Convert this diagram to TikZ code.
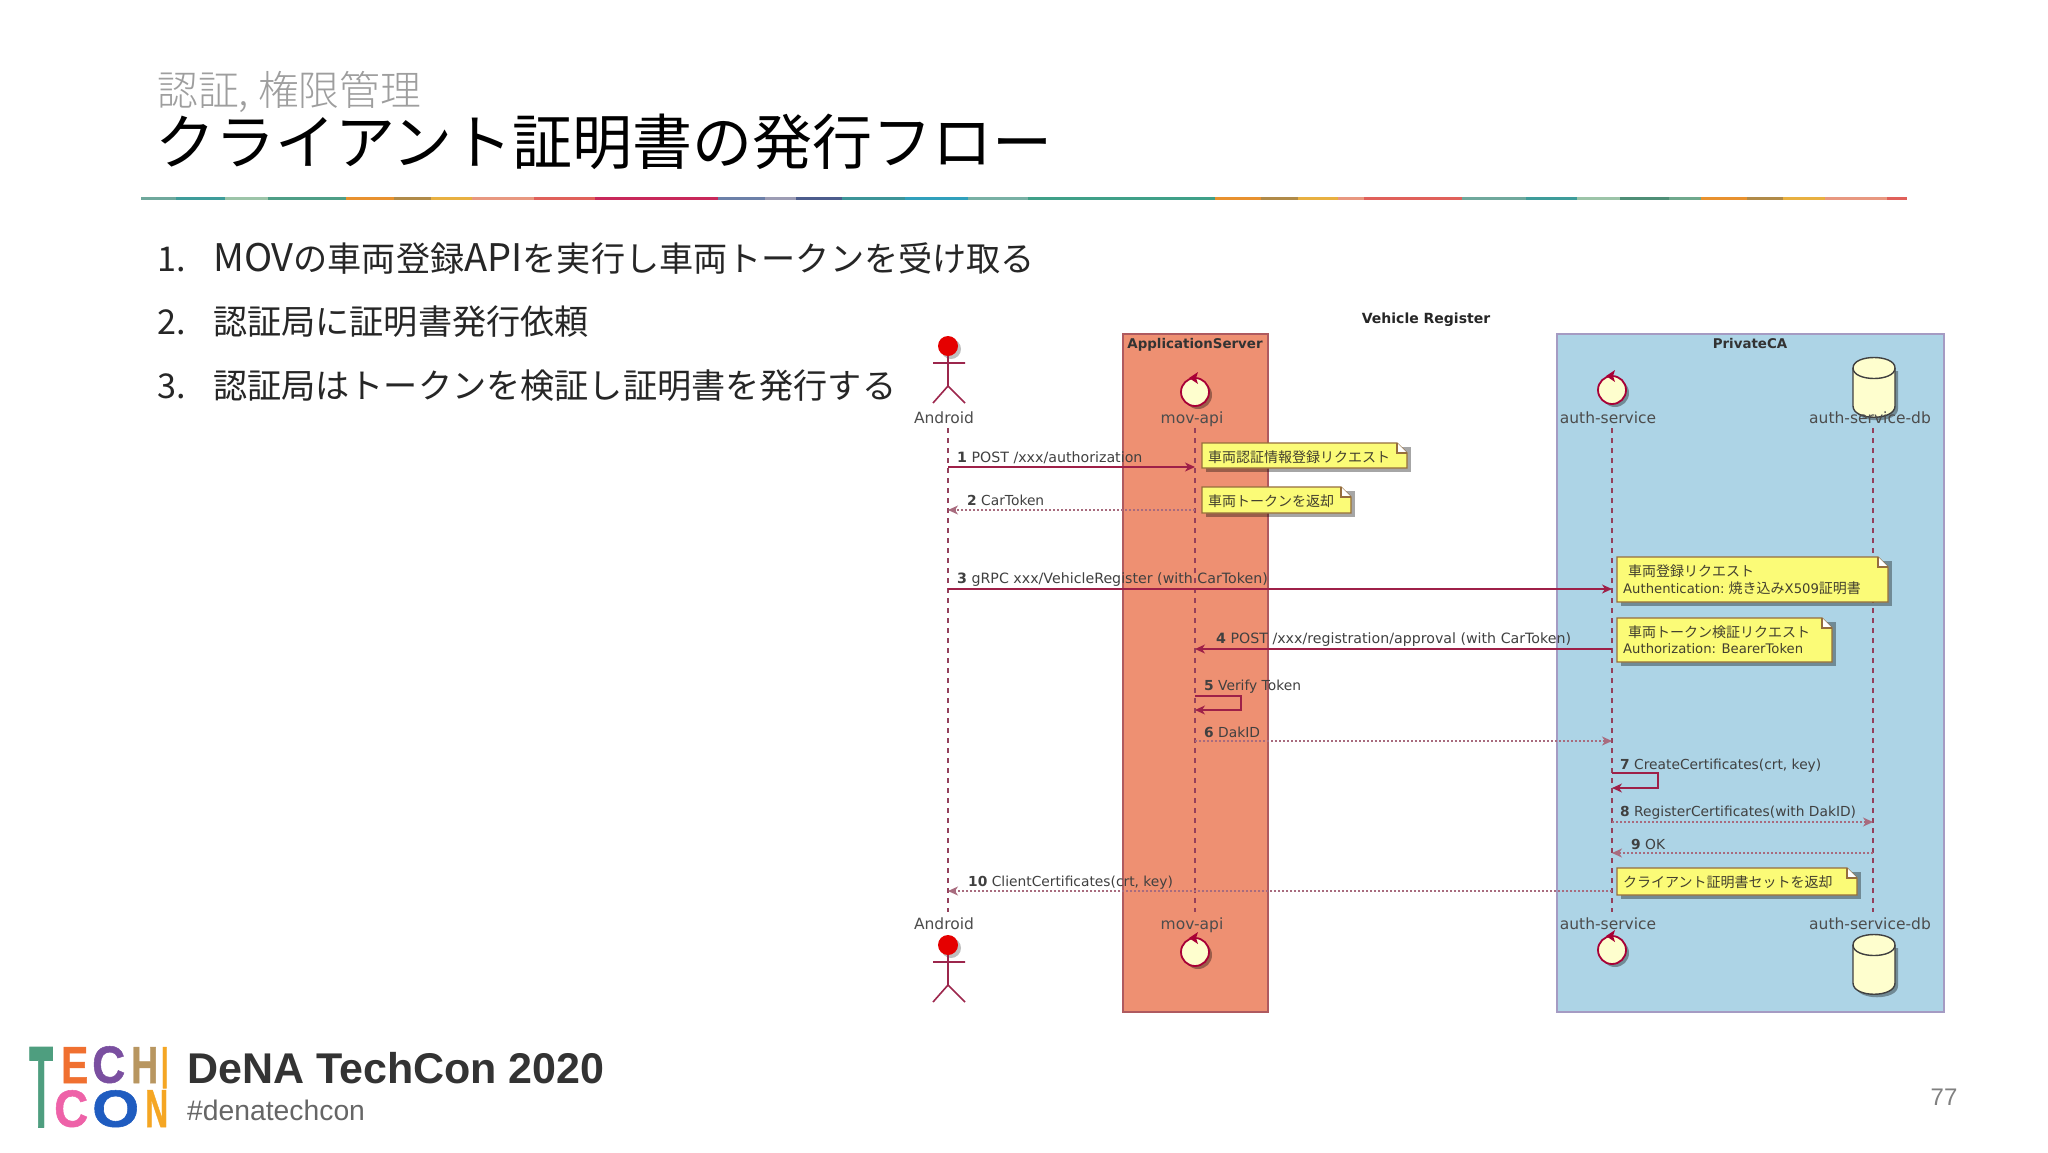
\documentclass[tikz,border=0pt]{standalone}
\usepackage{fontspec}
\usepackage{graphicx}
\usetikzlibrary{arrows.meta}
\setmainfont{Liberation Sans}
\newfontfamily\cjk{Noto Sans CJK JP}
\newfontfamily\cjkl{Noto Sans CJK JP Light}
\newfontfamily\umlf{DejaVu Sans}
\newfontfamily\logof[FakeBold=1]{Liberation Sans Bold}
\definecolor{umlred}{HTML}{A80036}
\definecolor{notey}{HTML}{FBFB77}
\definecolor{partf}{HTML}{FEFECE}
\definecolor{salm}{HTML}{EE9072}
\definecolor{lblue}{HTML}{ADD4E6}
\newcommand{\fsz}[1]{\fontsize{#1}{#1}\selectfont}
\newcommand{\lat}[1]{{\fsz{38}#1}}
\newcommand{\notebg}[4]{%
  \fill[black,opacity=.35] (#1+4,#2+4) rectangle (#3+4,#4+4);
  \draw[notebd,fill=notey] (#1,#2) -- (#3-10,#2) -- (#3,#2+10) -- (#3,#4) -- (#1,#4) -- cycle;
  \draw[notebd,fill=white] (#3-10,#2) -- (#3-10,#2+10) -- (#3,#2+10);
}
\newcommand{\ctrlcirc}[2]{%
  \fill[black,opacity=.35] (#1+3,#2+3) circle (14);
  \draw[umlred,line width=1.8pt,fill=partf] (#1,#2) circle (14);
  \fill[umlred] (#1-6,#2-14) -- (#1+3,#2-20) -- (#1+1,#2-14) -- (#1+3,#2-8) -- cycle;
}
\newcommand{\dbcyl}[2]{%
  \fill[black,opacity=.35] (#1-18,#2+3) -- (#1-18,#2+41) .. controls (#1-18,#2+56) and (#1+24,#2+56) .. (#1+24,#2+41) -- (#1+24,#2+3) -- cycle;
  \draw[line width=1.4pt,draw=black!75,fill=partf] (#1-21,#2) -- (#1-21,#2+38) .. controls (#1-21,#2+53) and (#1+21,#2+53) .. (#1+21,#2+38) -- (#1+21,#2) .. controls (#1+21,#2-14) and (#1-21,#2-14) .. (#1-21,#2) -- cycle;
  \draw[line width=1.4pt,draw=black!75] (#1-21,#2) .. controls (#1-21,#2+14) and (#1+21,#2+14) .. (#1+21,#2);
}
\newcommand{\stick}[2]{%
  \fill[black,opacity=.25] (#1+3,#2+3) circle (10);
  \draw[umlred!70!gray,line width=1.6pt] (#1-15,#2+17) -- (#1+17,#2+17) (#1,#2+10) -- (#1,#2+40) (#1-15,#2+57) -- (#1,#2+40) -- (#1+17,#2+57);
  \fill[red!90!black] (#1,#2) circle (10);
}
\tikzset{
  notebd/.style={draw={rgb,255:red,150;green,110;blue,60},line width=1.3pt},
  msg/.style={umlred!75!gray,line width=1.2pt,-{Stealth[length=10pt,width=9pt,inset=3pt]}},
  ret/.style={umlred!45!gray!80,line width=1.1pt,dash pattern=on 2pt off 2pt,-{Stealth[length=10pt,width=9pt,inset=3pt]}},
  lifeline/.style={umlred!50!gray,line width=1.2pt,dash pattern=on 5pt off 5pt},
  mlabel/.style={anchor=base west,inner sep=0pt,text=black!75,font=\umlf\fsz{13.8}},
  mwide/.style={mlabel,font=\umlf\fsz{14.2}},
  plabel/.style={anchor=base,inner sep=0pt,text=black!70,font=\umlf\fsz{15.5}},
  grouplabel/.style={anchor=base,inner sep=0pt,text=black!80,font=\umlf\bfseries\fsz{13.4}},
  notetext/.style={anchor=base west,inner sep=0pt,text=black!70!olive,font=\cjk\fsz{14}},
  listitem/.style={anchor=base west,inner sep=0pt,text=black!85,font=\cjk\fsz{34.15}},
  logoletter/.style={anchor=north west,inner sep=0pt,font=\logof},
}
\begin{document}
\begin{tikzpicture}[x=1pt,y=-1pt]
\useasboundingbox (0,0) rectangle (2048,1152);
\fill[white] (0,0) rectangle (2048,1152);

% header
\node[anchor=base west,inner sep=0pt,text=black!38,font=\cjkl\fsz{40.8}] (subtitle) at (157,105) {認証, 権限管理};
\node[anchor=base west,inner sep=0pt,text=black,font=\cjk\fsz{60}] (title) at (155,164) {クライアント証明書の発行フロー};
\foreach \a/\b/\c in {10/40/6FA89C,40/83/3E9C9A,83/120/9CC4A8,120/188/4E9E86,188/230/E8912E,230/262/B08A48,262/298/E8B040,298/352/E89880,352/405/E0605A,405/512/C8285A,512/553/6C80A8,553/580/9C9CB4,580/620/4C5C8C,620/675/3C9498,675/730/30A0BC,730/782/78B0A4,782/945/3FA088,945/985/E8912E,985/1017/B08A48,1017/1052/E8B040,1052/1075/E89880,1075/1160/E0605A,1160/1216/6FA89C,1216/1260/3E9C9A,1260/1298/9CC4A8,1298/1340/4E8E76,1340/1368/6FA88C,1368/1408/E8912E,1408/1440/B08A48,1440/1476/E8B040,1476/1530/E89880,1530/1548/E0605A}{
  \definecolor{seg}{HTML}{\c}
  \fill[seg] ({130+\a/0.871},197) rectangle ({130+\b/0.871},200);
}

% list
\node[listitem] (n1) at (157,271) {1.};
\node[listitem] (t1) at (213,271) {\lat{MOV}の車両登録\lat{API}を実行し車両トークンを受け取る};
\node[listitem] (n2) at (157,334) {2.};
\node[listitem] (t2) at (213,334) {認証局に証明書発行依頼};
\node[listitem] (n3) at (157,398) {3.};
\node[listitem] (t3) at (213,398) {認証局はトークンを検証し証明書を発行する};

% diagram boxes
\node[anchor=base,inner sep=0pt,text=black!85,font=\umlf\bfseries\fsz{14}] (dtitle) at (1426,323) {Vehicle Register};
\draw[draw={rgb,255:red,175;green,90;blue,95},line width=1.8pt,fill=salm] (1123,334) rectangle (1268,1012);
\draw[draw={rgb,255:red,165;green,155;blue,195},line width=2pt,fill=lblue] (1557,334) rectangle (1944,1012);
\node[grouplabel] (gapp) at (1195,348) {ApplicationServer};
\node[grouplabel] (gca) at (1750,348) {PrivateCA};

% lifeline positions
\coordinate (andS) at (948,428);  \coordinate (andE) at (948,912);
\coordinate (apiS) at (1195,428); \coordinate (apiE) at (1195,912);
\coordinate (autS) at (1612,428); \coordinate (autE) at (1612,912);
\coordinate (dbS) at (1873,428);  \coordinate (dbE) at (1873,912);
\draw[lifeline] (andS) -- (andE);
\draw[lifeline] (apiS) -- (apiE);
\draw[lifeline] (autS) -- (autE);
\draw[lifeline] (dbS) -- (dbE);

% participants
\stick{948}{346}
\ctrlcirc{1195}{392}
\ctrlcirc{1612}{390}
\dbcyl{1874}{368}
\node[plabel] (pa1) at (944,423) {Android};
\node[plabel] (pb1) at (1192,423) {mov-api};
\node[plabel] (pc1) at (1608,423) {auth-service};
\node[plabel] (pd1) at (1870,423) {auth-service-db};
\node[plabel] (pa2) at (944,929) {Android};
\node[plabel] (pb2) at (1192,929) {mov-api};
\node[plabel] (pc2) at (1608,929) {auth-service};
\node[plabel] (pd2) at (1870,929) {auth-service-db};
\stick{948}{945}
\ctrlcirc{1195}{952}
\ctrlcirc{1612}{950}
\dbcyl{1874}{945}

% notes
\notebg{1202}{443}{1407}{468}
\node[notetext] (note1) at (1208,462) {車両認証情報登録リクエスト};
\notebg{1202}{487}{1351}{513}
\node[notetext] (note2) at (1208,506) {車両トークンを返却};
\notebg{1617}{557}{1888}{602}
\node[notetext] (note3a) at (1628,576) {車両登録リクエスト};
\node[notetext] (note3b) at (1623,593) {{\umlf\fsz{13.2}Authentication:} 焼き込み{\umlf\fsz{13.2}X509}証明書};
\notebg{1617}{618}{1832}{662}
\node[notetext] (note4a) at (1628,637) {車両トークン検証リクエスト};
\node[notetext,font=\umlf\fsz{13.2}] (note4b) at (1623,653) {Authorization: BearerToken};
\notebg{1617}{868}{1857}{895}
\node[notetext] (note5) at (1623,887) {クライアント証明書セットを返却};

% message rows
\coordinate (y1) at (0,467);
\coordinate (y2) at (0,510);
\coordinate (y3) at (0,589);
\coordinate (y4) at (0,649);
\coordinate (y5a) at (0,696);
\coordinate (y5b) at (0,710);
\coordinate (y6) at (0,741);
\coordinate (y7a) at (0,773);
\coordinate (y7b) at (0,788);
\coordinate (y8) at (0,822);
\coordinate (y9) at (0,853);
\coordinate (y10) at (0,891);
\coordinate (s5) at (1241,0);
\coordinate (s7) at (1658,0);

\draw[msg] (andS |- y1) -- (apiS |- y1);
\node[mwide] (m1) at (957,462) {\textbf{1} POST /xxx/authorization};
\draw[ret] (apiS |- y2) -- (andS |- y2);
\node[mlabel] (m2) at (967,505) {\textbf{2} CarToken};
\draw[msg] (andS |- y3) -- (autS |- y3);
\node[mwide] (m3) at (957,583) {\textbf{3} gRPC xxx/VehicleRegister (with CarToken)};
\draw[msg] (autS |- y4) -- (apiS |- y4);
\node[mwide] (m4) at (1216,643) {\textbf{4} POST /xxx/registration/approval (with CarToken)};
\draw[msg] (apiS |- y5a) -- (s5 |- y5a) -- (s5 |- y5b) -- (apiS |- y5b);
\node[mlabel] (m5) at (1204,690) {\textbf{5} Verify Token};
\draw[ret] (apiS |- y6) -- (autS |- y6);
\node[mlabel] (m6) at (1204,737) {\textbf{6} DakID};
\draw[msg] (autS |- y7a) -- (s7 |- y7a) -- (s7 |- y7b) -- (autS |- y7b);
\node[mlabel] (m7) at (1620,769) {\textbf{7} CreateCertificates(crt, key)};
\draw[ret] (autS |- y8) -- (dbS |- y8);
\node[mlabel] (m8) at (1620,816) {\textbf{8} RegisterCertificates(with DakID)};
\draw[ret] (dbS |- y9) -- (autS |- y9);
\node[mlabel] (m9) at (1631,849) {\textbf{9} OK};
\draw[ret] (autS |- y10) -- (andS |- y10);
\node[mlabel] (m10) at (968,886) {\textbf{10} ClientCertificates(crt, key)};

% footer logo
\definecolor{lg1}{HTML}{4E9E7F}\definecolor{lg2}{HTML}{F07030}\definecolor{lg3}{HTML}{7A4FA0}
\definecolor{lg4}{HTML}{B89660}\definecolor{lg5}{HTML}{F5A623}\definecolor{lg6}{HTML}{EE62A8}\definecolor{lg7}{HTML}{1F5CC0}
\node[logoletter,text=lg1] (lT) at (29,1047) {\resizebox{24pt}{80pt}{T}};
\node[logoletter,text=lg2] (lE) at (61,1047) {\resizebox{27pt}{36pt}{E}};
\node[logoletter,text=lg3] (lC) at (92,1046) {\resizebox*{33pt}{37pt}{C}};
\node[logoletter,text=lg4] (lH) at (131,1047) {\resizebox{27pt}{36pt}{H}};
\node[logoletter,text=lg5] (lI) at (161,1047) {\resizebox{7pt}{41pt}{I}};
\node[logoletter,text=lg6] (lC2) at (54,1090) {\resizebox*{34pt}{37pt}{C}};
\node[logoletter,text=lg7] (lO) at (92,1090) {\resizebox*{47pt}{37pt}{O}};
\node[logoletter,text=lg5] (lN) at (145,1090) {\resizebox{23pt}{37pt}{N}};
\node[anchor=base west,inner sep=0pt,text=black!80,font=\fsz{43}] (brand) at (187,1083) {\textbf{DeNA TechCon 2020}};
\node[anchor=base west,inner sep=0pt,text=black!60,font=\fsz{28.3}] (tag) at (187,1120) {\#denatechcon};
\node[anchor=base,inner sep=0pt,text=black!50,font=\fsz{24}] (pageno) at (1944,1105) {77};
\end{tikzpicture}
\end{document}
